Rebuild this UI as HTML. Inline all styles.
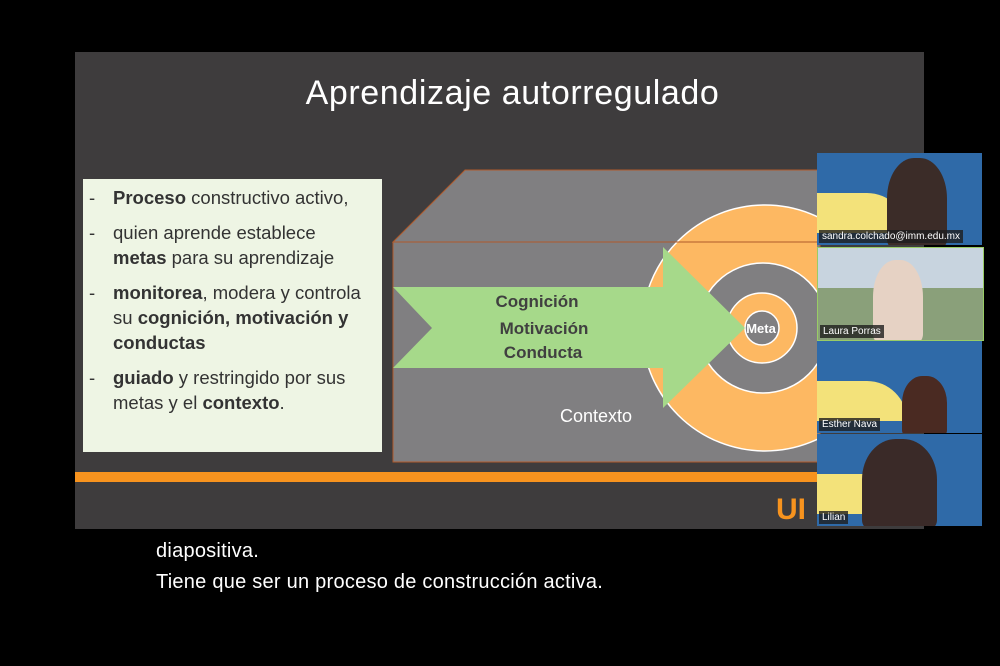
<!DOCTYPE html>
<html><head><meta charset="utf-8"><style>
body{margin:0;width:1000px;height:666px;background:#000;position:relative;overflow:hidden;font-family:"Liberation Sans",sans-serif}
.abs{position:absolute}
.slide{left:75px;top:52px;width:849px;height:477px;background:#3e3c3d}
.title{left:106px;top:74px;width:849px;text-align:center;color:#fff;font-size:34px;letter-spacing:0.6px}
.green{left:83px;top:179px;width:299px;height:273px;box-sizing:border-box;padding-top:6px;background:#eef5e4;color:#333;font-size:18.5px;line-height:25px;overflow:hidden}
.green p{margin:0 0 10px 0;padding-left:30px;position:relative;white-space:nowrap}
.green p:before{content:"-";position:absolute;left:6px}
.tile{left:817px;width:165px;height:92px;background:#2f6aa8;overflow:hidden}
.tile .y{position:absolute;left:0;top:40px;width:90px;height:40px;background:#f3e27a;border-radius:0 40px 0 0}
.tile .n{position:absolute;left:2px;bottom:2px;background:rgba(30,30,30,.8);color:#fff;font-size:10px;padding:1px 3px}
.tile .p{position:absolute;border-radius:45% 45% 10% 10%}
.cap{left:156px;color:#fff;font-size:20px;letter-spacing:0.25px}
</style></head><body>
<div class="abs slide"></div>
<div class="abs title" style="left:88px">Aprendizaje autorregulado</div>
<div class="abs green">
<p><b>Proceso</b> constructivo activo,</p>
<p>quien aprende establece<br><b>metas</b> para su aprendizaje</p>
<p><b>monitorea</b>, modera y controla<br>su <b>cognición, motivación y</b><br><b>conductas</b></p>
<p><b>guiado</b> y restringido por sus<br>metas y el <b>contexto</b>.</p>
</div>
<svg class="abs" style="left:0;top:0" width="1000" height="666">
<polygon points="393,242 465,170 820,170 820,242" fill="#807f81" stroke="#b05a2a" stroke-width="1"/>
<rect x="393" y="242" width="427" height="220" fill="#807f81" stroke="#b05a2a" stroke-width="1"/>
<clipPath id="c"><rect x="393" y="170" width="424" height="292"/></clipPath>
<g clip-path="url(#c)">
<circle cx="765" cy="328" r="123" fill="#fdb862" stroke="#fff" stroke-width="1.5"/>
<circle cx="763" cy="328" r="65" fill="#807f81" stroke="#fff" stroke-width="1.5"/>
<circle cx="762" cy="328" r="35" fill="#fdb862" stroke="#fff" stroke-width="1.5"/>
<circle cx="762" cy="328" r="17" fill="#807f81" stroke="#fff" stroke-width="1.5"/>
<line x1="393" y1="242" x2="820" y2="242" stroke="#b05a2a"/>
</g>
<polygon points="393,287 663,287 663,247 745,328 663,408 663,368 393,368 432,328" fill="#a6d98a"/>
<text x="537" y="307" text-anchor="middle" font-size="17" font-weight="bold" fill="#404040" font-family="Liberation Sans">Cognición</text>
<text x="544" y="334" text-anchor="middle" font-size="17" font-weight="bold" fill="#404040" font-family="Liberation Sans">Motivación</text>
<text x="543" y="358" text-anchor="middle" font-size="17" font-weight="bold" fill="#404040" font-family="Liberation Sans">Conducta</text>
<text x="761" y="333" text-anchor="middle" font-size="13" font-weight="bold" fill="#fff" font-family="Liberation Sans">Meta</text>
<text x="596" y="422" text-anchor="middle" font-size="18" fill="#fff" font-family="Liberation Sans">Contexto</text>
<rect x="75" y="472" width="742" height="10" fill="#f7931e"/>
<text x="776" y="519" font-size="30" font-weight="bold" fill="#f7931e" font-family="Liberation Sans">UI</text>
</svg>
<div class="abs tile" style="top:153px"><div class="y"></div><div class="p" style="left:70px;top:5px;width:60px;height:90px;background:#3b2c28"></div><div class="n">sandra.colchado@imm.edu.mx</div></div>
<div class="abs tile" style="top:247px;background:#8aa07a;border:1px solid #9c6"><div class="p" style="left:0;top:0;width:165px;height:40px;background:#c8d4df;border-radius:0"></div><div class="p" style="left:55px;top:12px;width:50px;height:82px;background:#e6d2c4"></div><div class="n">Laura Porras</div></div>
<div class="abs tile" style="top:341px"><div class="y"></div><div class="p" style="left:85px;top:35px;width:45px;height:60px;background:#4a2a22"></div><div class="n">Esther Nava</div></div>
<div class="abs tile" style="top:434px"><div class="y"></div><div class="p" style="left:45px;top:5px;width:75px;height:90px;background:#3a2a28"></div><div class="n">Lilian</div></div>
<div class="abs cap" style="top:540px">diapositiva.</div>
<div class="abs cap" style="top:571px">Tiene que ser un proceso de construcción activa.</div>
</body></html>
